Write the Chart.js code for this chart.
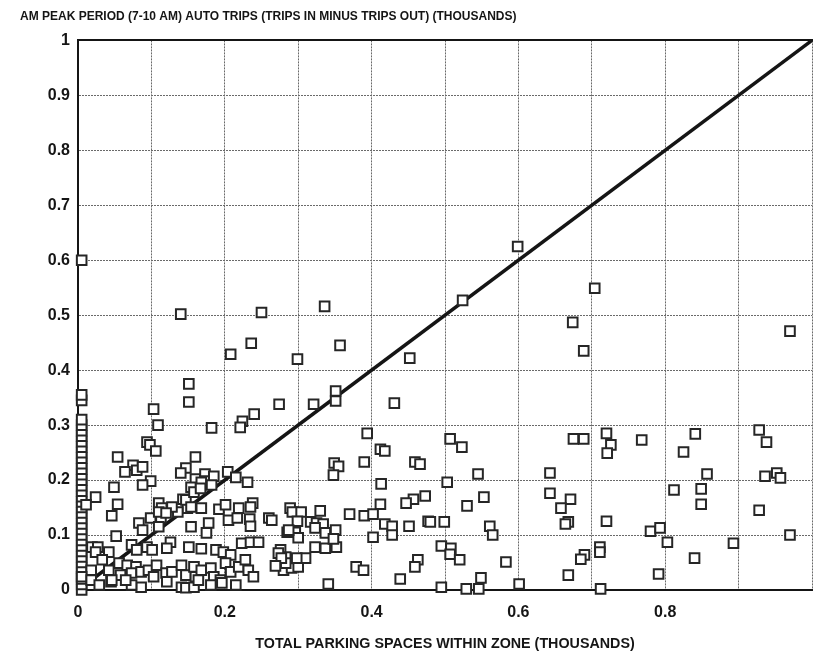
<!DOCTYPE html>
<html>
<head>
<meta charset="utf-8">
<title>AM peak auto trips vs parking spaces</title>
<script src="https://cdn.jsdelivr.net/npm/chart.js@4/dist/chart.umd.min.js"></script>
<style>
  html, body { margin: 0; padding: 0; background: #fff; }
  #wrap { width: 813px; height: 658px; }
</style>
</head>
<body>
<div id="wrap"><canvas id="tripsChart" width="813" height="658"></canvas></div>
<script>
// Zones with no parking: trips in minus trips out (thousands), stacked on x = 0
const zeroParkingTrips = [
    0, 0.01, 0.02, 0.03, 0.04, 0.05, 0.06, 0.07, 0.08, 0.09, 0.10,
    0.11, 0.12, 0.13, 0.14, 0.15, 0.16, 0.17, 0.18, 0.19, 0.20,
    0.21, 0.22, 0.23, 0.24, 0.25, 0.26, 0.27, 0.28, 0.29, 0.30, 0.31,
    0.345, 0.355, 0.60
];

// [parking spaces (thousands), net AM auto trips (thousands)] per zone
const zonePoints = [
    [0.599, 0.625], [0.704, 0.549], [0.524, 0.527], [0.336, 0.516], [0.25, 0.505],
    [0.14, 0.502], [0.674, 0.487], [0.689, 0.435], [0.970, 0.471],
    [0.208, 0.429], [0.236, 0.449], [0.299, 0.42], [0.357, 0.445], [0.452, 0.422],
    [0.151, 0.375], [0.151, 0.342], [0.351, 0.362], [0.351, 0.344], [0.321, 0.338],
    [0.274, 0.338], [0.431, 0.34], [0.240, 0.32], [0.224, 0.307], [0.221, 0.296],
    [0.103, 0.329], [0.109, 0.3], [0.182, 0.295],
    [0.928, 0.291], [0.938, 0.269], [0.841, 0.284], [0.675, 0.275], [0.689, 0.275],
    [0.72, 0.285], [0.726, 0.264], [0.721, 0.249], [0.768, 0.273], [0.507, 0.275],
    [0.523, 0.26], [0.394, 0.285], [0.412, 0.256], [0.418, 0.253],
    [0.094, 0.269], [0.098, 0.264], [0.106, 0.253], [0.054, 0.242], [0.16, 0.242],
    [0.075, 0.227], [0.064, 0.215], [0.08, 0.218], [0.088, 0.224], [0.147, 0.222],
    [0.14, 0.213], [0.099, 0.198], [0.16, 0.202], [0.173, 0.211], [0.174, 0.198],
    [0.185, 0.207], [0.204, 0.215], [0.215, 0.205], [0.231, 0.196], [0.049, 0.187],
    [0.088, 0.191],
    [0.349, 0.231], [0.355, 0.225], [0.39, 0.233], [0.348, 0.209], [0.459, 0.233],
    [0.466, 0.229], [0.413, 0.193], [0.545, 0.211], [0.643, 0.213], [0.503, 0.196],
    [0.825, 0.251], [0.857, 0.211], [0.812, 0.182], [0.849, 0.184], [0.936, 0.207],
    [0.952, 0.213], [0.957, 0.204],
    [0.643, 0.176], [0.671, 0.165], [0.658, 0.149], [0.668, 0.124], [0.664, 0.12],
    [0.72, 0.125], [0.78, 0.107], [0.793, 0.113], [0.803, 0.087], [0.893, 0.085],
    [0.970, 0.1], [0.849, 0.156], [0.928, 0.145],
    [0.711, 0.078], [0.711, 0.069], [0.69, 0.064], [0.685, 0.056], [0.84, 0.058],
    [0.668, 0.027], [0.791, 0.029], [0.712, 0.002],
    [0.473, 0.171], [0.457, 0.165], [0.447, 0.158], [0.412, 0.156], [0.53, 0.153],
    [0.553, 0.169], [0.37, 0.138], [0.39, 0.135], [0.402, 0.138], [0.477, 0.125],
    [0.48, 0.124], [0.499, 0.124], [0.451, 0.116], [0.418, 0.12], [0.428, 0.116],
    [0.561, 0.116], [0.565, 0.1], [0.402, 0.096], [0.428, 0.1],
    [0.495, 0.08], [0.508, 0.076], [0.507, 0.065], [0.52, 0.055], [0.583, 0.051],
    [0.463, 0.055], [0.459, 0.042], [0.379, 0.042], [0.389, 0.036], [0.439, 0.02],
    [0.341, 0.011], [0.495, 0.005], [0.549, 0.022], [0.529, 0.002], [0.546, 0.002],
    [0.601, 0.011],
    [0.289, 0.149], [0.292, 0.142], [0.304, 0.142], [0.33, 0.144], [0.299, 0.125],
    [0.317, 0.124], [0.325, 0.122], [0.334, 0.12], [0.285, 0.105], [0.296, 0.105],
    [0.323, 0.113], [0.337, 0.104], [0.351, 0.109], [0.3, 0.095], [0.323, 0.078],
    [0.337, 0.076], [0.352, 0.078], [0.348, 0.093],
    [0.276, 0.073], [0.283, 0.06], [0.28, 0.036], [0.291, 0.04], [0.3, 0.042],
    [0.31, 0.058], [0.298, 0.058], [0.283, 0.049],
    [0.154, 0.187], [0.168, 0.196], [0.182, 0.191], [0.024, 0.169], [0.011, 0.155],
    [0.054, 0.156], [0.046, 0.135], [0.11, 0.158], [0.114, 0.149], [0.143, 0.165],
    [0.168, 0.149], [0.149, 0.149], [0.136, 0.142], [0.192, 0.147], [0.201, 0.155],
    [0.238, 0.158], [0.235, 0.151],
    [0.083, 0.122], [0.088, 0.109], [0.099, 0.131], [0.113, 0.131], [0.11, 0.115],
    [0.154, 0.115], [0.178, 0.122], [0.175, 0.104], [0.205, 0.127], [0.217, 0.131],
    [0.234, 0.129], [0.235, 0.116], [0.26, 0.131], [0.264, 0.127], [0.287, 0.109],
    [0.052, 0.098],
    [0.223, 0.085], [0.235, 0.087], [0.246, 0.087], [0.273, 0.067], [0.277, 0.058],
    [0.269, 0.044],
    [0.019, 0.078], [0.027, 0.078], [0.024, 0.069], [0.042, 0.069], [0.033, 0.055],
    [0.073, 0.082], [0.08, 0.073], [0.094, 0.078], [0.101, 0.073], [0.126, 0.087],
    [0.121, 0.076], [0.151, 0.078], [0.168, 0.075], [0.188, 0.073], [0.198, 0.069],
    [0.208, 0.064],
    [0.018, 0.036], [0.005, 0.024], [0.018, 0.018], [0.045, 0.015], [0.029, 0.009],
    [0.056, 0.049], [0.067, 0.045], [0.079, 0.042], [0.073, 0.031], [0.086, 0.033],
    [0.058, 0.027], [0.042, 0.036], [0.096, 0.036], [0.107, 0.045], [0.103, 0.024],
    [0.12, 0.031], [0.128, 0.033], [0.141, 0.045], [0.147, 0.027], [0.158, 0.042],
    [0.16, 0.024], [0.168, 0.036], [0.181, 0.04], [0.185, 0.024], [0.201, 0.049],
    [0.208, 0.033], [0.219, 0.042], [0.228, 0.055], [0.232, 0.036], [0.239, 0.024],
    [0.194, 0.018],
    [0.086, 0.005], [0.073, 0.009], [0.121, 0.015], [0.141, 0.005], [0.147, 0.004],
    [0.158, 0.005], [0.164, 0.018], [0.181, 0.009], [0.196, 0.013], [0.215, 0.009],
    [0.065, 0.018], [0.046, 0.018],
    [0.11, 0.142], [0.128, 0.151], [0.12, 0.14], [0.147, 0.164], [0.154, 0.151],
    [0.158, 0.178], [0.167, 0.185], [0.219, 0.149]
];

// 45-degree reference line: trips equal to parking spaces
const equalityLine = [0, 1];

const xTickLabels = ['0', '0.2', '0.4', '0.6', '0.8'];
const yTickLabels = ['0', '0.1', '0.2', '0.3', '0.4', '0.5', '0.6', '0.7', '0.8', '0.9', '1'];

const LABEL_FONT = "'Liberation Sans', Arial, sans-serif";
const TICK_FONT = { family: LABEL_FONT, size: 16, weight: 'bold' };
const INK = '#151515';
const GRID_GREY = '#6a6a6a';

const zeroColumnX = 0.005;

function buildScatterData() {
    const pts = zeroParkingTrips.map(y => ({ x: zeroColumnX, y: y }));
    zonePoints.forEach(p => pts.push({ x: p[0], y: p[1] }));
    return pts;
}

function renderTripsChart() {
    const ctx = document.getElementById('tripsChart');
    if (!ctx) return;

    new Chart(ctx, {
        type: 'scatter',
        data: {
            datasets: [{
                label: 'Zones',
                data: buildScatterData(),
                pointStyle: 'rect',
                pointRadius: 6.8,
                pointBorderWidth: 2,
                pointBorderColor: '#262626',
                pointBackgroundColor: '#ffffff',
                clip: false,
                order: 0
            }, {
                type: 'line',
                label: 'Trips = spaces',
                data: equalityLine.map(v => ({ x: v, y: v })),
                borderColor: INK,
                borderWidth: 3.5,
                pointRadius: 0,
                fill: false,
                clip: false,
                order: 1
            }]
        },
        options: {
            responsive: false,
            animation: false,
            layout: {
                autoPadding: false,   // plot runs right up to the canvas edge
                padding: { left: 20, right: 1, top: 4, bottom: 0 }
            },
            plugins: {
                legend: { display: false },
                tooltip: { enabled: false },
                title: {
                    display: true,
                    text: 'AM PEAK PERIOD (7-10 AM) AUTO TRIPS (TRIPS IN MINUS TRIPS OUT) (THOUSANDS)',
                    align: 'start',
                    color: INK,
                    font: { family: LABEL_FONT, size: 12, weight: 'bold' },
                    padding: { top: 5, bottom: 17 }
                }
            },
            scales: {
                x: {
                    type: 'linear',
                    position: 'bottom',
                    min: 0,
                    max: 1,
                    afterFit: scale => {
                        // labels sit well inside the plot, so no side padding is needed
                        scale.height = 68;
                        scale.paddingLeft = 0;
                        scale.paddingRight = 0;
                    },
                    ticks: {
                        stepSize: 0.1,
                        autoSkip: false,
                        maxRotation: 0,
                        padding: 13,
                        color: INK,
                        font: TICK_FONT,
                        callback: value => {
                            const k = Math.round(value * 10);
                            return k % 2 === 0 && k < 10 ? xTickLabels[k / 2] : '';
                        }
                    },
                    grid: { color: GRID_GREY, lineWidth: 1, drawTicks: false },
                    border: { display: true, color: INK, width: 2, dash: [2, 1] },
                    title: {
                        display: true,
                        text: 'TOTAL PARKING SPACES WITHIN ZONE (THOUSANDS)',
                        color: INK,
                        font: { family: LABEL_FONT, size: 14.3, weight: 'bold' },
                        padding: { top: 0, bottom: 5 }
                    }
                },
                xTop: {
                    type: 'linear',
                    position: 'top',
                    min: 0,
                    max: 1,
                    afterFit: scale => { scale.height = 0; },
                    ticks: { display: false },
                    grid: { display: false, drawTicks: false },
                    border: { display: true, color: INK, width: 2 }
                },
                y: {
                    type: 'linear',
                    min: 0,
                    max: 1,
                    afterFit: scale => { scale.width = 58; },
                    ticks: {
                        stepSize: 0.1,
                        autoSkip: false,
                        padding: 8,
                        color: INK,
                        font: TICK_FONT,
                        callback: value => yTickLabels[Math.round(value * 10)]
                    },
                    grid: { color: GRID_GREY, lineWidth: 1, drawTicks: false },
                    border: { display: true, color: INK, width: 2, dash: [2, 1] }
                }
            }
        }
    });
}

document.addEventListener('DOMContentLoaded', renderTripsChart);
</script>
</body>
</html>
